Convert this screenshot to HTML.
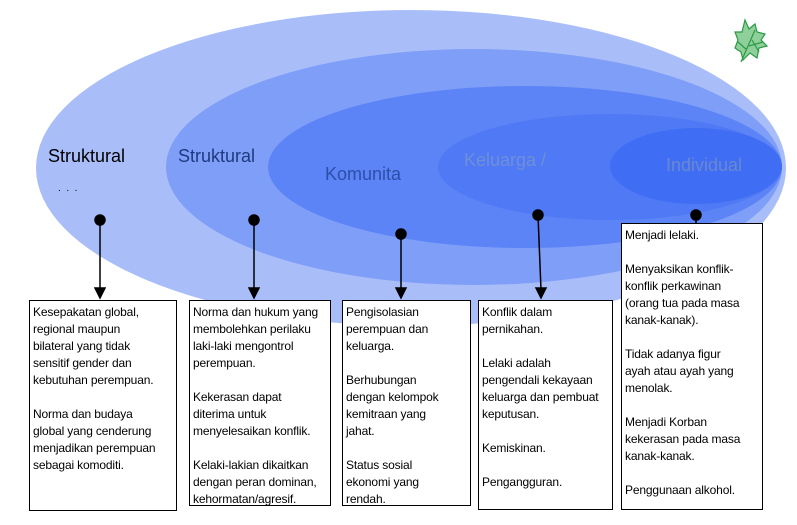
<!DOCTYPE html>
<html><head><meta charset="utf-8"><style>
body{margin:0;width:797px;height:525px;background:#fff;position:relative;overflow:hidden;font-family:"Liberation Sans",sans-serif}
svg{position:absolute;left:0;top:0}
.b{position:absolute;border:1px solid #000;background:#fff;box-sizing:border-box;padding:3px 3px;font-size:12px;letter-spacing:-0.15px;line-height:17px;color:#000;white-space:nowrap}
.l{position:absolute;font-size:18px;letter-spacing:0px}
</style></head><body>
<svg width="797" height="525">
<ellipse cx="411" cy="168" rx="375" ry="158" fill="#a9bef9"/>
<ellipse cx="474" cy="167" rx="308" ry="118" fill="#7f9ef8"/>
<ellipse cx="525" cy="167" rx="257" ry="81" fill="#5c84f6"/>
<ellipse cx="610" cy="167" rx="172" ry="53" fill="#5079f5"/>
<ellipse cx="696" cy="166" rx="86" ry="38" fill="#3f6ef4"/>
<g stroke="#000" stroke-width="1.5" fill="#000">
<circle cx="100" cy="220" r="5"/><line x1="100" y1="220" x2="100" y2="290"/><polygon points="95,288 105,288 100,298"/>
<circle cx="254" cy="220" r="5"/><line x1="254" y1="220" x2="254" y2="290"/><polygon points="249,288 259,288 254,298"/>
<circle cx="401" cy="234" r="5"/><line x1="401" y1="234" x2="401" y2="290"/><polygon points="396,288 406,288 401,298"/>
<circle cx="538" cy="215" r="5"/><line x1="538" y1="215" x2="541" y2="290"/><polygon points="536,288 546,288 541,298"/>
<circle cx="696" cy="215" r="5"/><line x1="696" y1="215" x2="696" y2="224"/>
</g>
<g transform="translate(735,20)">
<path d="M10,0 L14,9 L20,4 L22,12 L30,14 L26,20 L32,26 L24,28 L22,38 L15,33 L8,40 L6,32 L0,28 L3,20 L0,12 L7,12 Z" fill="#8fd09a" stroke="#2a9a45" stroke-width="1.2"/>
<path d="M6,42 L20,10 M14,26 L28,22 M12,30 L3,22 M17,20 L24,32" stroke="#2a9a45" stroke-width="1.2" fill="none"/>
</g>
</svg>
<div class="l" style="left:48px;top:146px;color:#000">Struktural</div>
<div class="l" style="left:178px;top:146px;color:#1f3a80">Struktural</div>
<div class="l" style="left:325px;top:164px;color:#2c4fa8">Komunita</div>
<div class="l" style="left:464px;top:150px;color:#6f8fd8">Keluarga /</div>
<div class="l" style="left:666px;top:155px;color:#6a88cf">Individual</div>
<div class="l" style="left:58px;top:183px;font-size:10px">. &nbsp;. &nbsp;.</div>
<div class="b" style="left:29px;top:300px;width:148px;height:211px">Kesepakatan global,<br>regional maupun<br>bilateral yang tidak<br>sensitif gender dan<br>kebutuhan perempuan.<br><br>Norma dan budaya<br>global yang cenderung<br>menjadikan perempuan<br>sebagai komoditi.</div>
<div class="b" style="left:189px;top:300px;width:142px;height:206px">Norma dan hukum  yang<br>membolehkan perilaku<br>laki-laki mengontrol<br>perempuan.<br><br>Kekerasan dapat<br>diterima untuk<br>menyelesaikan konflik.<br><br>Kelaki-lakian dikaitkan<br>dengan peran dominan,<br>kehormatan/agresif.</div>
<div class="b" style="left:342px;top:300px;width:129px;height:206px">Pengisolasian<br>perempuan dan<br>keluarga.<br><br>Berhubungan<br>dengan kelompok<br>kemitraan yang<br>jahat.<br><br>Status sosial<br>ekonomi yang<br>rendah.</div>
<div class="b" style="left:478px;top:300px;width:135px;height:210px">Konflik dalam<br>pernikahan.<br><br>Lelaki adalah<br>pengendali kekayaan<br>keluarga dan pembuat<br>keputusan.<br><br>Kemiskinan.<br><br>Pengangguran.</div>
<div class="b" style="left:621px;top:223px;width:142px;height:287px">Menjadi lelaki.<br><br>Menyaksikan konflik-<br>konflik perkawinan<br>(orang tua pada masa<br>kanak-kanak).<br><br>Tidak adanya figur<br>ayah atau ayah yang<br>menolak.<br><br>Menjadi Korban<br>kekerasan pada masa<br>kanak-kanak.<br><br>Penggunaan alkohol.</div>
</body></html>
